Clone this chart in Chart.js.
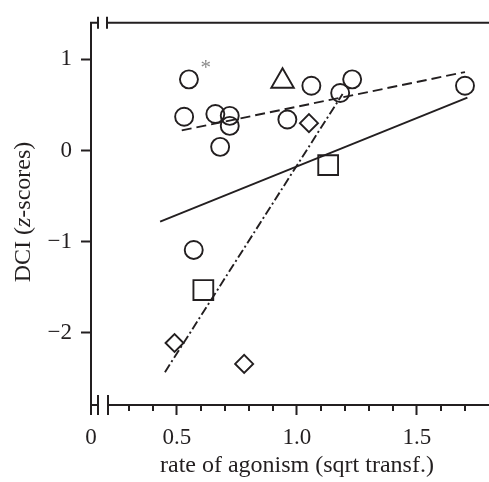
<!DOCTYPE html>
<html>
<head>
<meta charset="utf-8">
<script src="https://cdn.jsdelivr.net/npm/chart.js@4"></script>
<style>
  html, body { margin: 0; padding: 0; background: #fff; }
  #wrap { width: 489px; height: 482px; }
</style>
</head>
<body>
<div id="wrap"><canvas id="chart" width="489" height="482"></canvas></div>
<script>
// values: x = rate of agonism (sqrt transf.), y = DCI z-score
const circleX = [0.55, 0.53, 0.66, 0.72, 0.72, 0.68, 0.57, 0.96, 1.06, 1.18, 1.23, 1.70];
const circleY = [0.78, 0.37, 0.40, 0.38, 0.27, 0.04, -1.09, 0.34, 0.71, 0.63, 0.78, 0.71];
const triangleX = [0.94];
const triangleY = [0.76];
const squareX = [0.61, 1.13];
const squareY = [-1.53, -0.16];
const diamondX = [0.49, 0.78, 1.05];
const diamondY = [-2.11, -2.34, 0.30];

// regression lines (end points)
const solidX = [0.43, 1.71];
const solidY = [-0.78, 0.58];
const dashedX = [0.52, 1.70];
const dashedY = [0.22, 0.86];
const dashDotX = [0.45, 1.19];
const dashDotY = [-2.43, 0.62];

// asterisk next to the top-left circle
const starX = [0.62];
const starY = [0.93];

const xMajorTicks = [0.5, 1.0, 1.5];
const xMinorTicks = [0.3, 0.4, 0.6, 0.7, 0.8, 0.9, 1.1, 1.2, 1.3, 1.4, 1.6, 1.7];
const yTicks = [-2, -1, 0, 1];

const X_BREAK = 0.142;   // start of the broken x axis, labelled "0"
const X_MAX = 1.8;
const Y_MIN = -2.79;
const Y_MAX = 1.40;

const INK = '#231f20';
const FONT = 'Liberation Serif';

const toPoints = (xs, ys) => xs.map((x, i) => ({ x: x, y: ys[i] }));

const markerSet = (xs, ys, style, radius) => ({
    data: toPoints(xs, ys),
    pointStyle: style,
    pointRadius: radius,
    pointBorderWidth: 1.9,
    pointBorderColor: INK,
    pointBackgroundColor: 'rgba(0,0,0,0)',
    showLine: false
});

const lineSet = (xs, ys, dash) => ({
    data: toPoints(xs, ys),
    showLine: true,
    borderColor: INK,
    borderWidth: 1.9,
    borderDash: dash,
    pointRadius: 0,
    fill: false
});

// axis frame with break marks, minor ticks, titles, asterisk
const framePlugin = {
    id: 'frame',
    afterDraw(chart) {
        const ctx = chart.ctx;
        const { left, right, top, bottom } = chart.chartArea;
        const xs = chart.scales.x;
        const ys = chart.scales.y;
        ctx.save();
        ctx.strokeStyle = INK;
        ctx.lineWidth = 2;
        ctx.lineCap = 'butt';
        ctx.beginPath();
        // y axis
        ctx.moveTo(left, top - 1);
        ctx.lineTo(left, bottom + 10);
        // top line with break
        ctx.moveTo(left, top);
        ctx.lineTo(left + 7, top);
        ctx.moveTo(left + 7, top - 6);
        ctx.lineTo(left + 7, top + 6);
        ctx.moveTo(left + 16, top - 6);
        ctx.lineTo(left + 16, top + 6);
        ctx.moveTo(left + 16, top);
        ctx.lineTo(right, top);
        // bottom axis with break
        ctx.moveTo(left, bottom);
        ctx.lineTo(left + 7, bottom);
        ctx.moveTo(left + 7, bottom - 10);
        ctx.lineTo(left + 7, bottom + 10);
        ctx.moveTo(left + 17, bottom - 10);
        ctx.lineTo(left + 17, bottom + 10);
        ctx.moveTo(left + 17, bottom);
        ctx.lineTo(right, bottom);
        // minor x ticks
        xMinorTicks.forEach(v => {
            const px = Math.round(xs.getPixelForValue(v));
            ctx.moveTo(px, bottom);
            ctx.lineTo(px, bottom + 6);
        });
        ctx.stroke();

        // asterisk
        ctx.fillStyle = '#8a8a8a';
        ctx.font = '21px ' + FONT;
        ctx.textAlign = 'center';
        ctx.textBaseline = 'middle';
        ctx.fillText('*', xs.getPixelForValue(starX[0]), ys.getPixelForValue(starY[0]) + 3);

        // x title
        ctx.fillStyle = INK;
        ctx.font = '24px ' + FONT;
        ctx.textBaseline = 'alphabetic';
        ctx.fillText('rate of agonism (sqrt transf.)', xs.getPixelForValue(1.0), 472);

        // y title with italic z
        const parts = [
            { t: 'DCI (', f: '24px ' + FONT },
            { t: 'z', f: 'italic 24px ' + FONT },
            { t: '-scores)', f: '24px ' + FONT }
        ];
        let total = 0;
        parts.forEach(p => { ctx.font = p.f; p.w = ctx.measureText(p.t).width; total += p.w; });
        ctx.translate(30, 212);
        ctx.rotate(-Math.PI / 2);
        ctx.textAlign = 'left';
        let cx = -total / 2;
        parts.forEach(p => { ctx.font = p.f; ctx.fillText(p.t, cx, 0); cx += p.w; });
        ctx.restore();
    }
};

const ctx = document.getElementById('chart').getContext('2d');
new Chart(ctx, {
    type: 'scatter',
    data: {
        datasets: [
            lineSet(solidX, solidY, []),
            lineSet(dashedX, dashedY, [10, 5]),
            lineSet(dashDotX, dashDotY, [9, 3, 2, 3]),
            markerSet(circleX, circleY, 'circle', 9),
            markerSet(triangleX, triangleY, 'triangle', 13),
            markerSet(squareX, squareY, 'rect', 14),
            markerSet(diamondX, diamondY, 'rectRot', 9)
        ]
    },
    options: {
        responsive: false,
        animation: false,
        layout: { autoPadding: false, padding: { top: 19, left: 0, right: 0, bottom: 0 } },
        plugins: {
            legend: { display: false },
            tooltip: { enabled: false }
        },
        scales: {
            x: {
                type: 'linear',
                min: X_BREAK,
                max: X_MAX,
                afterBuildTicks: scale => {
                    scale.ticks = [X_BREAK].concat(xMajorTicks).map(v => ({ value: v }));
                },
                afterFit: scale => { scale.height = 77; },
                border: { display: false },
                grid: {
                    drawOnChartArea: false,
                    drawTicks: true,
                    tickLength: 10,
                    tickWidth: 2,
                    tickColor: c => (c.tick && c.tick.value === X_BREAK) ? 'rgba(0,0,0,0)' : INK
                },
                ticks: {
                    color: INK,
                    padding: 9,
                    maxRotation: 0,
                    autoSkip: false,
                    font: { family: FONT, size: 23 },
                    callback: v => v === X_BREAK ? '0' : v.toFixed(1)
                }
            },
            y: {
                type: 'linear',
                min: Y_MIN,
                max: Y_MAX,
                afterBuildTicks: scale => {
                    scale.ticks = yTicks.map(v => ({ value: v }));
                },
                afterFit: scale => { scale.width = 91; },
                border: { display: false },
                grid: {
                    drawOnChartArea: false,
                    drawTicks: true,
                    tickLength: 10,
                    tickWidth: 2,
                    tickColor: INK
                },
                ticks: {
                    color: INK,
                    padding: 9,
                    font: { family: FONT, size: 23 },
                    callback: v => v < 0 ? '\u2212' + Math.abs(v) : String(v)
                }
            }
        }
    },
    plugins: [framePlugin]
});
</script>
</body>
</html>
